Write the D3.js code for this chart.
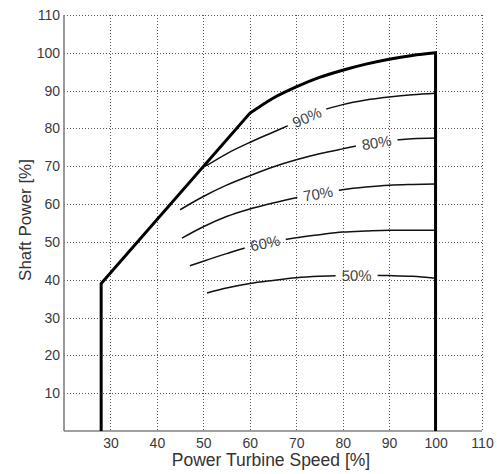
<!DOCTYPE html>
<html><head><meta charset="utf-8">
<script src="https://cdn.jsdelivr.net/npm/d3@7"></script>
<style>body{margin:0;background:#fff}</style>
</head><body><svg id="c" width="497" height="474"></svg>
<script>
// ---- data ----
const xTicks = [30, 40, 50, 60, 70, 80, 90, 100, 110];
const yTicks = [10, 20, 30, 40, 50, 60, 70, 80, 90, 100, 110];
const boundaryLeft = [[28, 0], [28, 39], [60, 84]];
const boundaryTop = [[60, 84], [65, 88], [70, 91], [75, 93.5], [80, 95.4], [85, 97], [90, 98.3], [95, 99.3], [100, 100]];
const boundaryRight = [[100, 100], [100, 0]];
const eff90 = [[50.6, 70.1], [55, 73.3], [60, 76.3], [65, 79], [68, 80.6], [72, 82.8], [76, 84.9], [80, 86.3], [85, 87.5], [90, 88.3], [95, 88.9], [100, 89.3]];
const eff80 = [[45, 58.5], [50, 62], [55, 65], [60, 67.5], [65, 69.8], [70, 71.7], [75, 73.3], [80, 74.6], [85, 75.8], [90, 76.8], [95, 77.3], [100, 77.5]];
const eff70 = [[45.4, 51], [50, 54], [55, 56.7], [60, 58.7], [65, 60.3], [70, 61.7], [75, 62.8], [80, 63.8], [85, 64.5], [90, 65], [95, 65.2], [100, 65.3]];
const eff60 = [[47.1, 43.7], [50, 44.9], [55, 46.9], [59, 48.4], [63, 49.6], [67, 50.5], [70, 51.1], [75, 51.9], [80, 52.6], [85, 52.9], [90, 53.1], [100, 53.1]];
const eff50 = [[50.8, 36.5], [55, 37.8], [60, 39], [65, 39.8], [70, 40.5], [75, 40.9], [80, 41.1], [85, 41.2], [90, 41.1], [95, 40.9], [100, 40.4]];
const effSeries = [eff90, eff80, eff70, eff60, eff50];
const effLabels = ["90%", "80%", "70%", "60%", "50%"];
const effLabelX = [72.3, 87.3, 74.7, 63.3, 83];

// ---- layout ----
const svg = d3.select("#c");
const x = d3.scaleLinear().domain([20, 110]).range([64, 482]);
const y = d3.scaleLinear().domain([0, 110]).range([431, 15]);
const font = "'Liberation Sans', Arial, sans-serif";

// grid
const grid = svg.append("g").attr("stroke", "#555").attr("stroke-width", 1).attr("stroke-dasharray", "1,2");
grid.selectAll(".vx").data(xTicks).join("line")
  .attr("x1", d => Math.round(x(d)) + 0.5).attr("x2", d => Math.round(x(d)) + 0.5)
  .attr("y1", y(110)).attr("y2", y(0));
grid.selectAll(".hy").data(yTicks).join("line")
  .attr("y1", d => Math.round(y(d)) + 0.5).attr("y2", d => Math.round(y(d)) + 0.5)
  .attr("x1", x(20)).attr("x2", x(110));

// axes
const xAxis = svg.append("g").attr("transform", `translate(0,${y(0)})`)
  .call(d3.axisBottom(x).tickValues(xTicks).tickSize(0).tickPadding(7));
const yAxis = svg.append("g").attr("transform", `translate(${x(20)},0)`)
  .call(d3.axisLeft(y).tickValues(yTicks).tickSize(0).tickPadding(4));
[xAxis, yAxis].forEach(a => {
  a.select(".domain").attr("stroke", "#808080").attr("stroke-width", 1.6);
  a.selectAll("text").attr("font-family", font).attr("font-size", 14).attr("fill", "#3a3a3a");
});
xAxis.select(".domain").attr("d", `M${x(20)},0H${x(110)}`);
yAxis.select(".domain").attr("d", `M0,${y(0)}V${y(110)}`);

// axis titles
svg.append("text").attr("x", 271).attr("y", 466).attr("text-anchor", "middle")
  .attr("font-family", font).attr("font-size", 17.5).attr("fill", "#333").text("Power Turbine Speed [%]");
svg.append("text").attr("transform", "translate(31,220) rotate(-90)").attr("text-anchor", "middle")
  .attr("font-family", font).attr("font-size", 17).attr("fill", "#333").text("Shaft Power [%]");

// helpers
const lin = d3.line().x(d => x(d[0])).y(d => y(d[1]));
const smooth = d3.line().x(d => x(d[0])).y(d => y(d[1])).curve(d3.curveMonotoneX);
function interp(pts, xv) {
  for (let i = 0; i < pts.length - 1; i++) {
    if (xv >= pts[i][0] && xv <= pts[i + 1][0]) {
      const t = (xv - pts[i][0]) / (pts[i + 1][0] - pts[i][0]);
      return pts[i][1] + t * (pts[i + 1][1] - pts[i][1]);
    }
  }
  return pts[pts.length - 1][1];
}

// label geometry + mask
const labels = effSeries.map((s, i) => {
  const lx = effLabelX[i];
  const px = x(lx), py = y(interp(s, lx));
  const a = Math.atan2(y(interp(s, lx + 2.5)) - y(interp(s, lx - 2.5)), x(lx + 2.5) - x(lx - 2.5)) * 180 / Math.PI;
  return { text: effLabels[i], px, py, a };
});
const mask = svg.append("defs").append("mask").attr("id", "lblmask").attr("maskUnits", "userSpaceOnUse");
mask.append("rect").attr("x", 0).attr("y", 0).attr("width", 497).attr("height", 474).attr("fill", "#fff");
labels.forEach(l => {
  mask.append("rect").attr("x", -21).attr("y", -8).attr("width", 42).attr("height", 16)
    .attr("transform", `translate(${l.px},${l.py}) rotate(${l.a})`).attr("fill", "#000");
});

// efficiency lines
svg.append("g").attr("mask", "url(#lblmask)").selectAll("path").data(effSeries).join("path")
  .attr("d", smooth).attr("fill", "none").attr("stroke", "#111").attr("stroke-width", 1.5);

// labels
svg.append("g").selectAll("text").data(labels).join("text")
  .attr("transform", l => `translate(${l.px},${l.py}) rotate(${l.a})`)
  .attr("text-anchor", "middle").attr("dy", "0.36em")
  .attr("font-family", font).attr("font-size", 15).attr("fill", "#444").text(l => l.text);

// boundary
const dPath = lin(boundaryLeft) + smooth(boundaryTop).replace(/^M/, "L") + lin(boundaryRight).replace(/^M/, "L");
svg.append("path").attr("d", dPath).attr("fill", "none").attr("stroke", "#000")
  .attr("stroke-width", 3).attr("stroke-linejoin", "miter");
</script></body></html>
